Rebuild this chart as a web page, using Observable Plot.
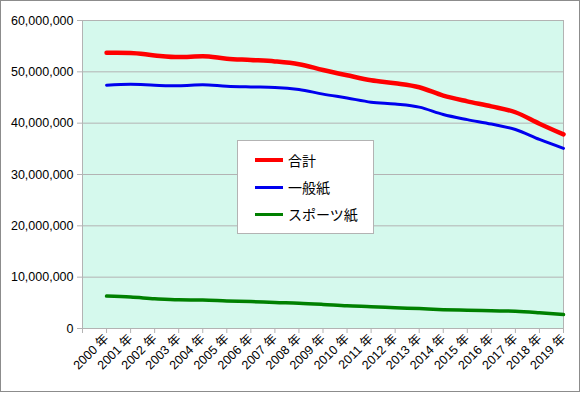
<!DOCTYPE html>
<html><head><meta charset="utf-8">
<script src="https://cdn.jsdelivr.net/npm/d3@7"></script>
<script src="https://cdn.jsdelivr.net/npm/@observablehq/plot@0.6"></script>
<style>
body{margin:0;background:#fff;}
#wrap{position:relative;width:578px;height:390px;border:1px solid #8c8c8c;background:#fff;overflow:hidden;}
#legend{position:absolute;left:236px;top:139px;width:135px;height:92px;background:#fff;border:1px solid #b3b3b3;font-family:"Noto Sans CJK JP",sans-serif;font-size:14px;color:#000;}
.item{position:absolute;left:17px;display:flex;align-items:center;}
.sw{width:28px;height:4px;margin-right:5px;}
</style></head>
<body><div id="wrap"><div id="legend"></div></div>
<script>
const years = [2000,2001,2002,2003,2004,2005,2006,2007,2008,2009,2010,2011,2012,2013,2014,2015,2016,2017,2018,2019];
const seriesNames = ["合計","一般紙","スポーツ紙"];
const total = [53708831,53680756,53198444,52874959,53021564,52568032,52310478,52028671,51491409,50352831,49321840,48345304,47777913,46999468,45362672,44246688,43276147,42128189,39901576,37811248];
const general = [47401669,47559052,47390027,47282645,47469987,47189832,47056527,46963136,46563681,45659885,44906720,44091335,43723161,43126352,41687125,40691869,39821106,38763641,36823021,35091335];
const sports = [6307162,6121704,5808417,5592314,5551577,5378200,5253951,5065535,4927728,4692946,4415120,4253969,4054752,3873116,3675547,3554819,3455041,3364548,3078555,2719913];
const yTicks = [0,10000000,20000000,30000000,40000000,50000000,60000000];
const colors = ["#ff0000","#0000ee","#008000"];
const widths = [4.5,3,3.5];

const data = [];
[total, general, sports].forEach((arr, i) => arr.forEach((v, j) => data.push({year: years[j], value: v, series: seriesNames[i]})));
const xTicks = [years[0]-1, ...years];

const chart = Plot.plot({
  width: 578, height: 390,
  marginLeft: 81, marginRight: 16, marginTop: 19, marginBottom: 63,
  style: {fontFamily: "'Liberation Sans', Arial, sans-serif", fontSize: "12px", background: "transparent", color: "#000"},
  x: {domain: [years[0]-1, years[years.length-1]], axis: null},
  y: {domain: [0, 60000000], axis: null},
  color: {domain: seriesNames, range: colors},
  marks: [
    Plot.frame({fill: "#d5f9ed", stroke: "#b3b3b3"}),
    Plot.gridY(yTicks, {stroke: "#b3b3b3", strokeOpacity: 1}),
    Plot.axisY({ticks: yTicks, tickFormat: d => d3.format(",")(d), tickSize: 5, tickPadding: 4, stroke: "#b3b3b3", fontSize: 12.5, label: null}),
    Plot.axisX({ticks: xTicks, tickFormat: d => d < years[0] ? "" : `${d} 年`, tickRotate: -45, tickSize: 5, tickPadding: 3, stroke: "#b3b3b3", fontSize: 12.5, label: null, fontFamily: "'Liberation Sans', 'Noto Sans CJK JP', sans-serif"}),
    ...seriesNames.map((s, i) => Plot.line(data.filter(d => d.series === s), {x: "year", y: "value", stroke: colors[i], strokeWidth: widths[i], curve: "monotone-x"}))
  ]
});
document.getElementById("wrap").prepend(chart);

const legend = document.getElementById("legend");
seriesNames.forEach((s, i) => {
  const it = document.createElement("div");
  it.className = "item";
  it.style.top = (9 + i*27) + "px";
  it.innerHTML = `<span class="sw" style="background:${colors[i]};height:${i===0?4:3}px"></span><span>${s}</span>`;
  legend.appendChild(it);
});
</script></body></html>
